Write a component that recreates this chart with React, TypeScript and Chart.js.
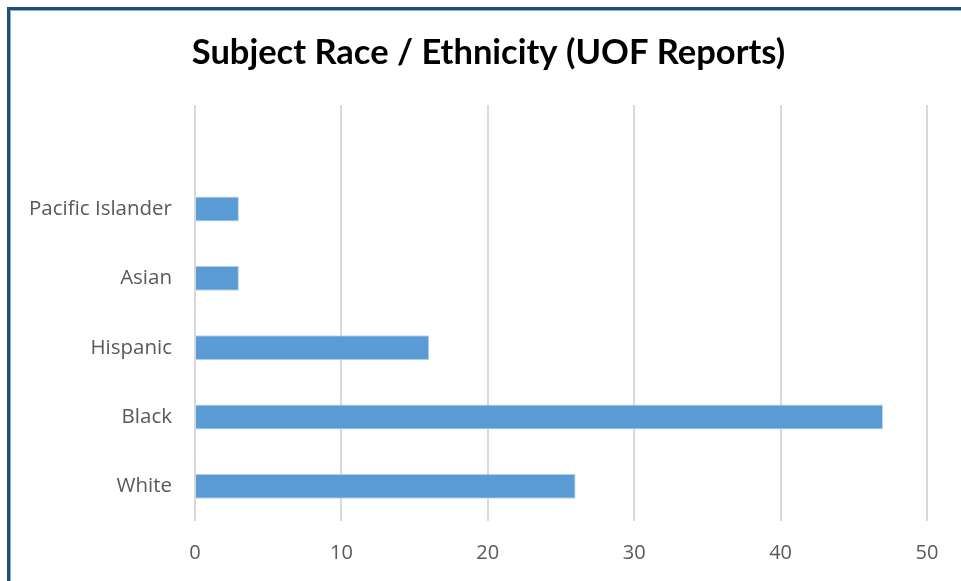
import React, { useEffect, useRef } from "react";
import { Chart, registerables } from "chart.js";

Chart.register(...registerables);

const categories = ["", "Pacific Islander", "Asian", "Hispanic", "Black", "White"];
const reportCounts = [null, 3, 3, 16, 47, 26];
const xTicks = [0, 10, 20, 30, 40, 50];
const titleText = "Subject Race / Ethnicity (UOF Reports)";

const titlePlugin = {
  id: "offsetTitle",
  afterDraw(chart: any) {
    const ctx = chart.ctx;
    ctx.save();
    ctx.font = "bold 34.5px Lato";
    ctx.fillStyle = "#000000";
    ctx.textAlign = "center";
    ctx.textBaseline = "middle";
    ctx.fillText(titleText, chart.width / 2 + 8, 53);
    ctx.restore();
  },
};

export default function App() {
  const ref = useRef<HTMLCanvasElement | null>(null);

  useEffect(() => {
    if (!ref.current) return;
    const chart = new Chart(ref.current, {
      type: "bar",
      data: {
        labels: categories,
        datasets: [
          {
            data: reportCounts as any,
            backgroundColor: "#5B9BD5",
            borderColor: "#BDD7EE",
            borderWidth: 1,
            categoryPercentage: 1,
            barPercentage: 0.36,
          },
        ],
      },
      plugins: [titlePlugin],
      options: {
        indexAxis: "y",
        animation: false,
        responsive: false,
        maintainAspectRatio: false,
        layout: { padding: { left: 0, right: 34, top: 105, bottom: 0 } },
        plugins: {
          legend: { display: false },
          tooltip: { enabled: false },
          title: { display: false },
        },
        scales: {
          x: {
            min: 0,
            max: 50,
            afterBuildTicks: (scale: any) => {
              scale.ticks = xTicks.map((v) => ({ value: v }));
            },
            afterFit: (scale: any) => {
              scale.height = 60;
            },
            grid: { color: "#D9D9D9", lineWidth: 2, drawTicks: false },
            border: { display: false },
            ticks: {
              color: "#595959",
              padding: 20,
              font: { family: "Open Sans", size: 20 },
            },
          },
          y: {
            afterFit: (scale: any) => {
              scale.width = 195;
            },
            grid: { display: false, drawTicks: false },
            border: { display: false },
            ticks: {
              color: "#595959",
              padding: 23,
              font: { family: "Open Sans", size: 20.5 },
            },
          },
        },
      },
    });
    return () => chart.destroy();
  }, []);

  return (
    <div style={{ position: "absolute", left: 0, top: 0, width: 961, height: 581, overflow: "hidden", background: "#FFFFFF" }}>
      <div
        style={{
          position: "absolute",
          left: 7,
          top: 7,
          width: 1200,
          height: 1200,
          borderLeft: "3px solid #1F4E79",
          borderTop: "3px solid #1F4E79",
          boxShadow: "inset 1px 1px 0 #8EAADB",
        }}
      />
      <canvas ref={ref} width={961} height={581} style={{ position: "absolute", left: 0, top: 0 }} />
    </div>
  );
}
